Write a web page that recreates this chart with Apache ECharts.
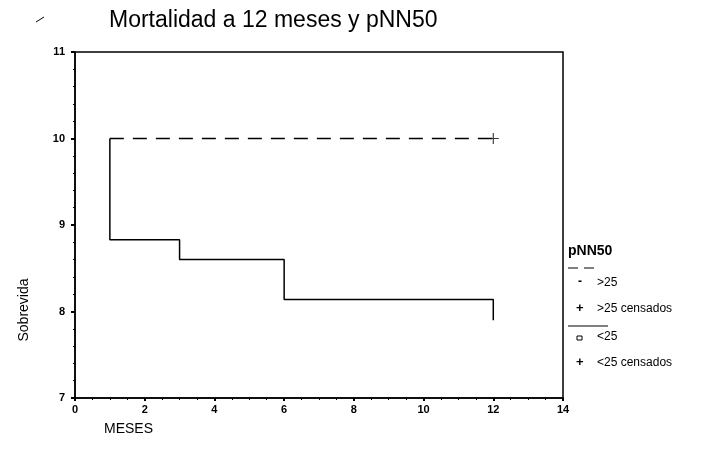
<!DOCTYPE html>
<html>
<head>
<meta charset="utf-8">
<script src="https://cdn.jsdelivr.net/npm/echarts@6/dist/echarts.min.js"></script>
<style>
  body { margin: 0; background: #fff; }
  #chart { width: 701px; height: 469px; }
</style>
</head>
<body>
<div id="chart"></div>
<script>
// datos
var xTicks = [0, 2, 4, 6, 8, 10, 12, 14];
var yTicks = [7, 8, 9, 10, 11];
var altoX = [1, 12];          // pNN50 >25
var altoY = [10, 10];
var bajoX = [1, 1, 3, 6, 12]; // pNN50 <25 (escalones)
var bajoY = [10, 8.83, 8.6, 8.14, 7.9];
var censX = [12];
var censY = [10];

var plus = "path://M0,4.5L10,4.5L10,5.5L0,5.5ZM4.5,0L5.5,0L5.5,10L4.5,10Z";

function pares(xs, ys) {
  var out = [];
  for (var i = 0; i < xs.length; i++) out.push([xs[i], ys[i]]);
  return out;
}

var chart = echarts.init(document.getElementById("chart"));
var fuente = "Liberation Sans, Arial, sans-serif";

chart.setOption({
  backgroundColor: "#fff",
  animation: false,
  title: {
    text: "Mortalidad a 12 meses y pNN50",
    left: 104,
    top: 4,
    textStyle: { fontFamily: fuente, fontWeight: "normal", fontSize: 23, color: "#000" }
  },
  grid: {
    left: 75, right: 138, top: 52, bottom: 71,
    show: true, borderColor: "#000", borderWidth: 1.5
  },
  xAxis: {
    type: "value", min: 0, max: 14, interval: 2,
    axisLine: { lineStyle: { color: "#000", width: 1.5 } },
    axisTick: { inside: false, length: 3, lineStyle: { color: "#000", width: 2 } },
    minorTick: { show: true, splitNumber: 4, length: 2, lineStyle: { color: "#000" } },
    splitLine: { show: false },
    axisLabel: { color: "#000", fontFamily: fuente, fontWeight: "bold", fontSize: 11, margin: 6 },
    name: "MESES", nameLocation: "start", nameGap: 0,
    nameTextStyle: { fontFamily: fuente, fontSize: 14, color: "#000", align: "left",
      verticalAlign: "top", padding: [24, 0, 0, 29] }
  },
  yAxis: {
    type: "value", min: 7, max: 11, interval: 1,
    axisLine: { lineStyle: { color: "#000", width: 1.5 } },
    axisTick: { length: 4, lineStyle: { color: "#000", width: 2 } },
    minorTick: { show: true, splitNumber: 5, length: 2, lineStyle: { color: "#000" } },
    splitLine: { show: false },
    axisLabel: { color: "#000", fontFamily: fuente, fontWeight: "bold", fontSize: 11, margin: 10 },
    name: "Sobrevida", nameLocation: "middle", nameGap: 44, nameRotate: 90,
    nameTextStyle: { fontFamily: fuente, fontSize: 14, color: "#000", padding: [0, 0, 0, -170] }
  },
  series: [
    {
      name: ">25", type: "line", data: pares(altoX, altoY),
      symbol: "none",
      lineStyle: { color: "#000", width: 1.5, type: [14, 9] }
    },
    {
      name: "<25", type: "line", step: "end", data: pares(bajoX, bajoY),
      symbol: "none",
      lineStyle: { color: "#000", width: 1.5 }
    },
    {
      name: ">25 censados", type: "scatter", data: pares(censX, censY),
      symbol: plus, symbolSize: 11,
      itemStyle: { color: "#000" }
    }
  ],
  graphic: [
    { type: "line", shape: { x1: 36, y1: 22, x2: 44, y2: 17 }, style: { stroke: "#000", lineWidth: 1 } },
    { type: "text", left: 568, top: 244,
      style: { text: "pNN50", font: "bold 14px Liberation Sans, Arial", fill: "#000" } },
    { type: "line", shape: { x1: 568, y1: 268, x2: 578, y2: 268 }, style: { stroke: "#000", lineWidth: 1 } },
    { type: "line", shape: { x1: 584, y1: 268, x2: 594, y2: 268 }, style: { stroke: "#000", lineWidth: 1 } },
    { type: "text", left: 578, top: 276, style: { text: "-", font: "bold 12px Liberation Sans", fill: "#000" } },
    { type: "text", left: 597, top: 277, style: { text: ">25", font: "12px Liberation Sans", fill: "#000" } },
    { type: "text", left: 576, top: 302, style: { text: "+", font: "bold 13px Liberation Sans", fill: "#000" } },
    { type: "text", left: 597, top: 303, style: { text: ">25 censados", font: "12px Liberation Sans", fill: "#000" } },
    { type: "line", shape: { x1: 568, y1: 326, x2: 608, y2: 326 }, style: { stroke: "#000", lineWidth: 1 } },
    { type: "rect", shape: { x: 577, y: 336, width: 5, height: 4 }, style: { stroke: "#000", fill: "#fff", lineWidth: 1 } },
    { type: "text", left: 597, top: 331, style: { text: "<25", font: "12px Liberation Sans", fill: "#000" } },
    { type: "text", left: 576, top: 356, style: { text: "+", font: "bold 13px Liberation Sans", fill: "#000" } },
    { type: "text", left: 597, top: 357, style: { text: "<25 censados", font: "12px Liberation Sans", fill: "#000" } }
  ]
});
</script>
</body>
</html>
